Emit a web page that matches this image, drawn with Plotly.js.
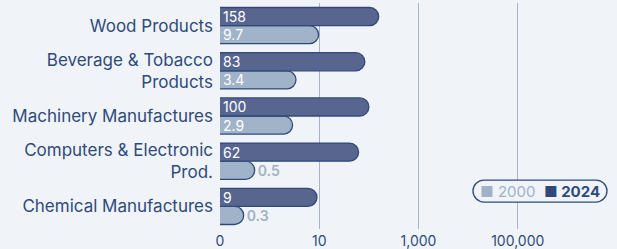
<!DOCTYPE html>
<html><head><meta charset="utf-8">
<script src="https://cdn.plot.ly/plotly-3.0.1.min.js"></script>
<style>html,body{margin:0;padding:0;background:#f0f4f8;}</style>
</head><body>
<div id="chart" style="width:617px;height:249px;"></div>
<script>
const categories = ["Wood Products", "Beverage & Tobacco<br>Products", "Machinery Manufactures", "Computers & Electronic<br>Prod.", "Chemical Manufactures"];
const values2000 = [9.7, 3.4, 2.9, 0.5, 0.3];
const values2024 = [158, 83, 100, 62, 9];
const seriesNames = ["2000", "2024"];
const tickVals = [0.1, 10, 1000, 100000];
const tickLabels = ["0", "10", "1,000", "100,000"];

const dark = "#2f4a7a";
const light = "#9fb2c7";
const bg = "#f0f4f8";
const font = "Inter, 'Open Sans', sans-serif";

function pos(vals){ return vals.map(v => v < 1 ? "outside" : "inside"); }

const traces = [
  {type:"bar", orientation:"h", name:seriesNames[0], y:categories, x:values2000,
   text:values2000.map(String), textposition:pos(values2000), insidetextanchor:"start", textangle:0, constraintext:"none",
   insidetextfont:{color:"#ffffff", size:14, family:font}, outsidetextfont:{color:light, size:14, family:font, weight:600},
   marker:{color:"#a0b3c8", line:{color:dark, width:1.3}, cornerradius:"50%"}, cliponaxis:false, hoverinfo:"none"},
  {type:"bar", orientation:"h", name:seriesNames[1], y:categories, x:values2024,
   text:values2024.map(String), textposition:pos(values2024), insidetextanchor:"start", textangle:0, constraintext:"none",
   insidetextfont:{color:"#ffffff", size:14, family:font}, outsidetextfont:{color:dark, size:14, family:font},
   marker:{color:"#58668f", line:{color:dark, width:1.3}, cornerradius:"50%"}, cliponaxis:false, hoverinfo:"none"}
];

const legendText = '<span style="color:#9fb2c7">■ ' + seriesNames[0] + '</span>  <b style="color:#2f4a7a">■ ' + seriesNames[1] + '</b>';

const layout = {
  width:617, height:249,
  margin:{l:220, r:0, t:3, b:20},
  paper_bgcolor:bg, plot_bgcolor:bg,
  font:{family:font, color:dark},
  barmode:"group", bargap:0.2, bargroupgap:0,
  uniformtext:{mode:"show", minsize:14},
  xaxis:{type:"log", range:[-1, 7], tickvals:tickVals, ticktext:tickLabels,
         showgrid:true, gridcolor:"#a6b4ca", gridwidth:1, zeroline:false, showline:false,
         tickfont:{size:14, color:dark, family:font}, ticks:"", ticklabelstandoff:2, fixedrange:true},
  yaxis:{type:"category", categoryorder:"array", categoryarray:categories.slice().reverse(),
         tickfont:{size:17, color:dark, family:font}, ticks:"", ticklabelstandoff:6, showgrid:false, fixedrange:true},
  showlegend:false,
  annotations:[{xref:"paper", yref:"paper", x:0.806, y:0.168, xanchor:"center", yanchor:"middle",
                text:legendText, showarrow:false, font:{size:15, family:font, color:dark}}],
  shapes:[{type:"path", xref:"paper", yref:"paper", xsizemode:"pixel", ysizemode:"pixel",
           xanchor:0.806, yanchor:0.168,
           path:"M-56,-11 H56 C62,-11 67,-6 67,0 C67,6 62,11 56,11 H-56 C-62,11 -67,6 -67,0 C-67,-6 -62,-11 -56,-11 Z",
           line:{color:dark, width:1.3}, fillcolor:bg, layer:"above"}]
};

Plotly.newPlot("chart", traces, layout, {displayModeBar:false, staticPlot:true});
</script>
</body></html>
